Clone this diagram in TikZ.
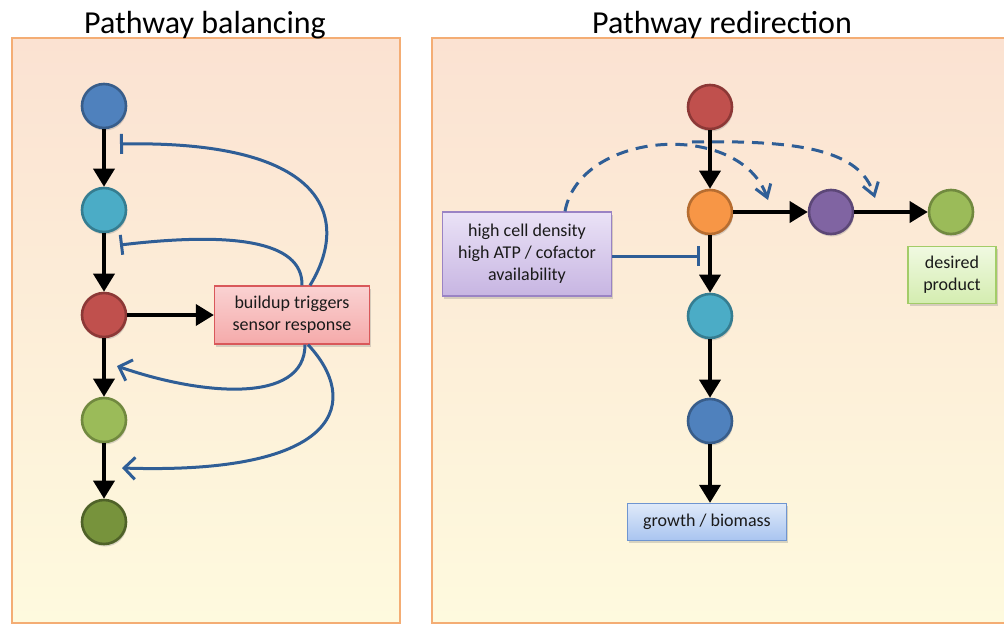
\documentclass[tikz,border=0pt]{standalone}
\usepackage{fontspec}
\setmainfont{Carlito}
\usetikzlibrary{arrows.meta,shadows}
\definecolor{ptop}{HTML}{FBE2D2}
\definecolor{pbot}{HTML}{FEFADE}
\definecolor{pline}{HTML}{F4AD74}
\definecolor{lblue}{HTML}{2F5E96}
\definecolor{txt}{HTML}{1A1A1A}
\definecolor{cblue}{HTML}{4F81BD}\definecolor{dblue}{HTML}{385D8A}
\definecolor{cteal}{HTML}{4BACC6}\definecolor{dteal}{HTML}{357D91}
\definecolor{cred}{HTML}{C0504D}\definecolor{dred}{HTML}{8C3836}
\definecolor{clgreen}{HTML}{9BBB59}\definecolor{dlgreen}{HTML}{71893F}
\definecolor{cdgreen}{HTML}{77933C}\definecolor{ddgreen}{HTML}{4F6228}
\definecolor{corange}{HTML}{F79646}\definecolor{dorange}{HTML}{B66D31}
\definecolor{cpurple}{HTML}{8064A2}\definecolor{dpurple}{HTML}{5C4776}
\definecolor{rtop}{HTML}{FAD2D2}\definecolor{rbot}{HTML}{F5AAAA}\definecolor{rline}{HTML}{D9585A}
\definecolor{vtop}{HTML}{EAE2F6}\definecolor{vbot}{HTML}{C7B5E2}\definecolor{vline}{HTML}{9A83C4}
\definecolor{gtop}{HTML}{F0F9E1}\definecolor{gbot}{HTML}{D4EDB0}\definecolor{gline}{HTML}{A3CC68}
\definecolor{btop}{HTML}{DFE9F9}\definecolor{bbot}{HTML}{A9C5F0}\definecolor{bline}{HTML}{6F95D0}

\begin{document}
\begin{tikzpicture}[x=1pt,y=-1pt,
    dot/.style={circle,minimum size=44pt,inner sep=0pt,line width=2.6pt,fill=c#1,draw=d#1,
        drop shadow={opacity=0.3,shadow xshift=1pt,shadow yshift=-2.5pt}},
    tbox/.style={rectangle,line width=1.3pt,align=center,inner sep=2pt,text=txt,
        font=\fontsize{18}{22}\selectfont,
        drop shadow={opacity=0.3,shadow xshift=1.5pt,shadow yshift=-2.5pt}},
    title/.style={anchor=base,font=\fontsize{32}{36}\selectfont,text=black},
    flow/.style={line width=3.6pt,-{Triangle[length=18pt,width=21pt]}},
    inh/.style={line width=3pt,color=lblue,-{Bar[width=20pt]}},
    act/.style={line width=3pt,color=lblue,-{Straight Barb[length=11pt,width=22pt]}},
    dsh/.style={line width=3pt,color=lblue,dash pattern=on 12pt off 8pt,
        -{Straight Barb[length=12pt,width=16pt]}}]
    \useasboundingbox (0,0) rectangle (1004,624);
    \shade[top color=ptop,bottom color=pbot] (12,38) rectangle (400,623);
    \draw[pline,line width=1.5pt] (12,38) rectangle (400,623);
    \shade[top color=ptop,bottom color=pbot] (432,38) rectangle (1012,623);
    \draw[pline,line width=1.5pt] (432,38) rectangle (1012,623);
    \node[title] (t1) at (205,33) {Pathway balancing};
    \node[title] (t2) at (722,33) {Pathway redirection};

    \node[dot=blue] (A) at (104,106) {};
    \node[dot=teal] (B) at (104,210) {};
    \node[dot=red] (C) at (104,315) {};
    \node[dot=lgreen] (D) at (104,420) {};
    \node[dot=dgreen] (E) at (104,522) {};
    \node[tbox,top color=rtop,bottom color=rbot,draw=rline,
        minimum width=155pt,minimum height=58pt] (L) at (292,315)
        {buildup triggers\\sensor response};
    \coordinate (i1) at (120,144);
    \coordinate (i2) at (120,245);
    \coordinate (a1) at (117,366);
    \coordinate (a2) at (122,468);
    \draw[flow] (A) -- (B);
    \draw[flow] (B) -- (C);
    \draw[flow] (C) -- (D);
    \draw[flow] (D) -- (E);
    \draw[flow] (C) -- (L);
    \draw[inh] ([xshift=18pt]L.north) .. controls (350,220) and (330,140) .. (i1);
    \draw[inh] ([xshift=10pt]L.north) .. controls (303,240) and (230,232) .. (i2);
    \draw[act] ([xshift=13pt]L.south) .. controls (305,405) and (200,395) .. (a1);
    \draw[act] ([xshift=16pt]L.south) .. controls (360,400) and (345,475) .. (a2);

    \node[dot=red] (F) at (710,107) {};
    \node[dot=orange] (G) at (710,212) {};
    \node[dot=purple] (H) at (831,212) {};
    \node[dot=lgreen] (K) at (951,212) {};
    \node[dot=teal] (M) at (710,316) {};
    \node[dot=blue] (N) at (710,421) {};
    \node[tbox,top color=vtop,bottom color=vbot,draw=vline,
        minimum width=169pt,minimum height=84pt] (Cd) at (527,254)
        {high cell density\\high ATP / cofactor\\availability};
    \node[tbox,top color=gtop,bottom color=gbot,draw=gline,
        minimum width=88pt,minimum height=57pt] (Pr) at (952,275)
        {desired\\product};
    \node[tbox,top color=btop,bottom color=bbot,draw=bline,
        minimum width=159pt,minimum height=37pt] (Gr) at (707,522) {growth / biomass};
    \coordinate (i3) at (700,256);
    \coordinate (fork) at (692,142);
    \coordinate (d1) at (768,200);
    \coordinate (d2) at (875,198);
    \draw[flow] (F) -- (G);
    \draw[flow] (G) -- (H);
    \draw[flow] (H) -- (K);
    \draw[flow] (G) -- (M);
    \draw[flow] (M) -- (N);
    \draw[flow] (N) -- (Gr.north -| N);
    \draw[inh] (Cd.east |- i3) -- (i3);
    \draw[dsh] ([xshift=38pt]Cd.north) .. controls (580,130) and (740,120) .. (d1);
    \draw[dsh] (fork) .. controls (800,140) and (860,150) .. (d2);
\end{tikzpicture}
\end{document}
